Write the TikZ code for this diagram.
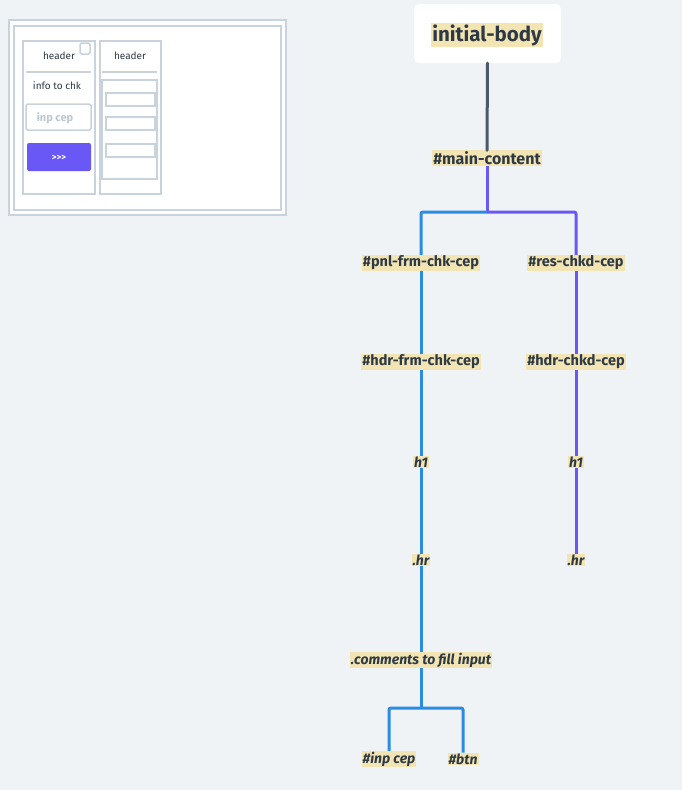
\documentclass[tikz,border=0pt]{standalone}
\usepackage{fontspec}
\setmainfont{Fira Sans}
\usetikzlibrary{positioning}

\definecolor{bgcol}{RGB}{239,243,246}
\definecolor{hlcol}{RGB}{243,228,180}
\definecolor{txtcol}{RGB}{45,58,69}
\definecolor{bluecol}{RGB}{43,139,224}
\definecolor{purplecol}{RGB}{105,88,245}
\definecolor{rootcol}{RGB}{74,90,106}
\definecolor{wfcol}{RGB}{200,211,221}
\definecolor{phcol}{RGB}{190,200,210}

\tikzset{
  lbl/.style={fill=hlcol, text=txtcol, inner sep=1pt, outer sep=0pt,
    font=\bfseries\fontsize{14.5}{17}\selectfont},
  ilbl/.style={lbl, font=\bfseries\itshape\fontsize{14}{16}\selectfont},
  blueln/.style={draw=bluecol, line width=3pt, rounded corners=2pt},
  purpleln/.style={draw=purplecol, line width=3pt, rounded corners=2pt},
  wfbox/.style={draw=wfcol, line width=1.5pt},
  wftxt/.style={text=txtcol, font=\fontsize{10}{12}\selectfont, inner sep=0pt}
}

\begin{document}
\begin{tikzpicture}[x=1pt, y=-1pt]
  \fill[bgcol] (0,0) rectangle (682,790);
  \useasboundingbox (0,0) rectangle (682,790);

  % wireframe
  \draw[wfbox, fill=white] (9,20) rectangle (286,215);
  \draw[wfbox] (14,26) rectangle (281,210);
  \draw[wfbox] (23,41) rectangle (95,194);
  \draw[wfbox] (100,41) rectangle (161,194);
  \draw[wfbox, rounded corners=1.5pt] (80,43) rectangle (90,54);
  \node (hdra)[wftxt] at (59,56) {header};
  \node (hdrb)[wftxt] at (130,56) {header};
  \draw[draw=wfcol, line width=1.5pt] (26,72) -- (91,72);
  \draw[draw=wfcol, line width=1.5pt] (102,72) -- (157,72);
  \node (info)[wftxt] at (57,86) {info to chk};
  \draw[wfbox, rounded corners=1.5pt] (26,104) rectangle (91,130);
  \node (inp)[wftxt, text=phcol, font=\bfseries\fontsize{11}{13}\selectfont] at (55,118) {inp cep};
  \fill[purplecol, rounded corners=2pt] (27,143) rectangle (91,171);
  \node (btn)[wftxt, text=white, font=\bfseries\fontsize{9}{11}\selectfont] at (59,158) {{>}{>}{>}};
  \draw[wfbox] (102,80) rectangle (157,179);
  \draw[wfbox] (106,93) rectangle (155,106);
  \draw[wfbox] (106,117) rectangle (155,130);
  \draw[wfbox] (106,144) rectangle (155,157);

  % mind map
  \node (rootbox)[fill=white, rounded corners=5pt, minimum width=147pt, minimum height=59pt] at (487.5,33.5) {};
  \node (root)[lbl, font=\bfseries\fontsize{20.5}{24}\selectfont] at (487,35) {initial-body};
  \node (main)[lbl, font=\bfseries\fontsize{16}{19}\selectfont] at (487,158) {\#main-content};
  \node (pnl)[lbl] at (421,263) {\#pnl-frm-chk-cep};
  \node (res)[lbl] at (576,263) {\#res-chkd-cep};
  \node (hdrfrm)[lbl] at (421,362) {\#hdr-frm-chk-cep};
  \node (hdrchkd)[lbl] at (576,362) {\#hdr-chkd-cep};
  \node (hone)[ilbl] at (421,462) {h1};
  \node (htwo)[ilbl] at (576,462) {h1};
  \node (hrone)[ilbl] at (421,560) {.hr};
  \node (hrtwo)[ilbl] at (576,560) {.hr};
  \node (cmts)[ilbl] at (421,660) {.comments to fill input};
  \node (inpcep)[ilbl] at (389,759) {\#inp cep};
  \node (btnn)[ilbl] at (463,759) {\#btn};

  \coordinate (forka) at (487,212);
  \coordinate (forkb) at (421,708);

  \draw[draw=rootcol, line width=3pt, line cap=round] (rootbox.south) -- (main.north);
  \draw[purpleln] (main.south) -- (forka);
  \draw[blueln] (forka) -| (pnl.north);
  \draw[purpleln] (forka) -| (res.north);
  \draw[blueln] (pnl) -- (hdrfrm);
  \draw[purpleln] (res) -- (hdrchkd);
  \draw[blueln] (hdrfrm) -- (hone);
  \draw[purpleln] (hdrchkd) -- (htwo);
  \draw[blueln] (hone) -- (hrone);
  \draw[purpleln] (htwo) -- (hrtwo);
  \draw[blueln] (hrone) -- (cmts);
  \draw[blueln] (cmts.south) -- (forkb);
  \draw[blueln] (forkb) -| (inpcep.north);
  \draw[blueln] (forkb) -| (btnn.north);
\end{tikzpicture}
\end{document}
